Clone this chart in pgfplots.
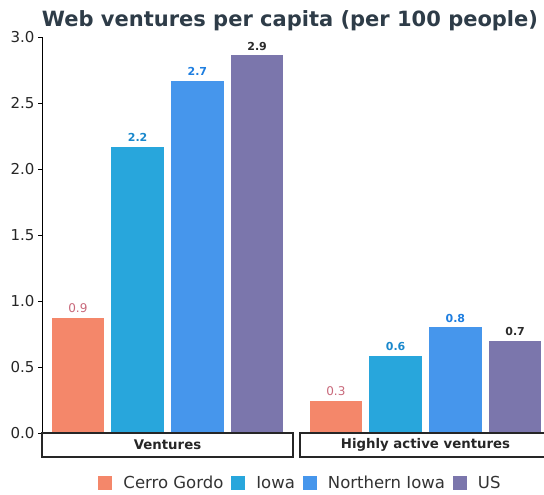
\documentclass[border=0pt]{standalone}
\usepackage{fontspec}
\setmainfont{DejaVu Sans}
\usepackage{pgfplots}
\pgfplotsset{compat=1.18}

\definecolor{cg}{HTML}{F4876A}
\definecolor{ia}{HTML}{28A6DC}
\definecolor{ni}{HTML}{4696EC}
\definecolor{us}{HTML}{7B76AC}
\definecolor{cglab}{HTML}{C8687A}
\definecolor{ialab}{HTML}{1A88CC}
\definecolor{nilab}{HTML}{1E7EE0}
\definecolor{uslab}{HTML}{2A2A2A}
\definecolor{titlec}{HTML}{2E3C48}

\pgfplotsset{
  facet/.style={scale only axis, width=251pt, height=396pt,
    xmin=-0.6, xmax=3.6, ymin=0, ymax=3.0, clip=false,
    xtick=\empty,
    ybar, bar shift=0pt, bar width=0.88,
    point meta=explicit symbolic, nodes near coords,
    every node near coord/.append style={anchor=south, inner sep=0pt, yshift=5pt}},
  sq/.style={legend image code/.code={\fill[##1] (0pt,-7pt) rectangle (14pt,7pt);}},
  lblA/.style={every node near coord/.append style={text=#1, font=\fontsize{12}{14}\selectfont}},
  lblB/.style={every node near coord/.append style={text=#1, font=\bfseries\fontsize{11}{13}\selectfont}},
}

\begin{document}
\begin{tikzpicture}
\useasboundingbox (0pt,0pt) rectangle (544pt,495pt);
\clip (0pt,0pt) rectangle (544pt,495pt);
\begin{axis}[facet, at={(42pt,62pt)}, anchor=south west,
  axis x line=none, axis y line*=left,
  y axis line style={line width=1pt, black},
  ytick={0,0.5,1,1.5,2,2.5,3},
  tick align=outside, major tick length=4pt,
  ytick style={line width=0.8pt, black},
  y tick label style={font=\fontsize{15}{18}\selectfont, text=black!85,
    /pgf/number format/fixed, /pgf/number format/fixed zerofill,
    /pgf/number format/precision=1, /pgf/number format/assume math mode=true},
  legend style={at={(1.026,-0.126)}, anchor=center, draw=none, fill=none,
    legend columns=4, font=\fontsize{16.5}{19}\selectfont, text=black!80,
    nodes={inner xsep=0pt, inner ysep=1pt},
    /tikz/every even column/.append style={column sep=8pt},
    /tikz/every odd column/.append style={column sep=11pt}},
]
\addplot[fill=cg, draw=none, sq, lblA=cglab] coordinates {(0,0.87) [0.9]};
\addplot[fill=ia, draw=none, sq, lblB=ialab] coordinates {(1,2.17) [2.2]};
\addplot[fill=ni, draw=none, sq, lblB=nilab] coordinates {(2,2.67) [2.7]};
\addplot[fill=us, draw=none, sq, lblB=uslab] coordinates {(3,2.86) [2.9]};
\legend{Cerro Gordo, Iowa, Northern Iowa, US}
\end{axis}
\begin{axis}[facet, at={(300pt,62pt)}, anchor=south west,
  axis lines=none, ytick=\empty]
\addplot[fill=cg, draw=none, lblA=cglab] coordinates {(0,0.24) [0.3]};
\addplot[fill=ia, draw=none, lblB=ialab] coordinates {(1,0.585) [0.6]};
\addplot[fill=ni, draw=none, lblB=nilab] coordinates {(2,0.80) [0.8]};
\addplot[fill=us, draw=none, lblB=uslab] coordinates {(3,0.70) [0.7]};
\end{axis}
\draw[line width=1.2pt, black!85] (42pt,38pt) rectangle (293pt,62pt);
\draw[line width=1.2pt, black!85] (300pt,38pt) rectangle (551pt,62pt);
\node[font=\bfseries\fontsize{13.3}{16}\selectfont, text=black!85] at (167.5pt,50pt) {Ventures};
\node[font=\bfseries\fontsize{13.3}{16}\selectfont, text=black!85] at (425.5pt,50pt) {Highly active ventures};
\node[anchor=base, font=\bfseries\fontsize{21}{25}\selectfont, text=titlec] at (290pt,468pt) {Web ventures per capita (per 100 people)};
\end{tikzpicture}
\end{document}
